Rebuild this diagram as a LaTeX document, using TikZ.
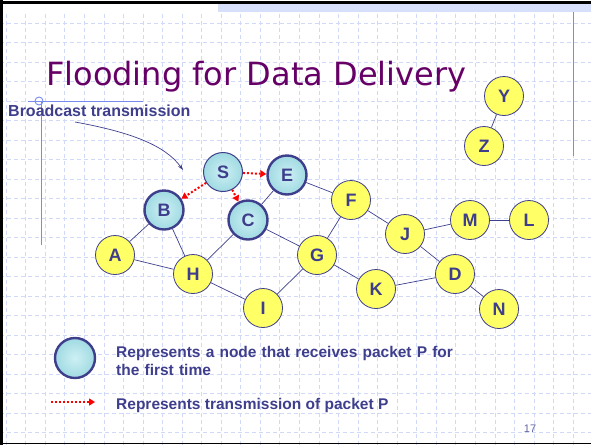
\documentclass[tikz,border=0pt]{standalone}
\usepackage{fontspec}
\setmainfont{Liberation Sans}
\newfontfamily\headfont{DejaVu Sans}
\usetikzlibrary{arrows.meta}
\definecolor{navy}{RGB}{62,62,140}
\definecolor{titlepurple}{RGB}{102,0,102}
\definecolor{pale}{RGB}{255,255,102}
\definecolor{drop}{RGB}{160,218,226}
\definecolor{droplight}{RGB}{205,240,244}
\definecolor{gridblue}{RGB}{208,218,248}
\definecolor{bandblue}{RGB}{214,224,250}
\definecolor{guideblue}{RGB}{120,140,240}

\begin{document}
\begin{tikzpicture}[x=1pt,y=-1pt,
	plain/.style={circle,draw=navy,fill=pale,line width=0.8pt,minimum size=39pt,inner sep=0pt,
		font=\fontsize{18}{18}\selectfont\bfseries,text=navy},
	got/.style={plain,shade,shading=radial,inner color=droplight,outer color=drop,line width=2.4pt},
	src/.style={got,line width=1pt},
	link/.style={draw=navy,line width=0.7pt},
	tx/.style={draw=red,line width=2pt,dash pattern=on 2pt off 2pt,-{Triangle[length=6pt,width=7pt]}},
	note/.style={anchor=base west,inner sep=0pt,text=navy,font=\fontsize{15.5}{18}\selectfont\bfseries},
	gridline/.style={draw=gridblue,line width=0.6pt,dash pattern=on 4pt off 3pt},
	guide/.style={draw=guideblue,line width=0.9pt}]
	\useasboundingbox (0,0) rectangle (591,445);
	% slide background
	\foreach \i in {0,...,29} \draw[gridline] ({573-19.55*\i},14)--({573-19.55*\i},445);
	\foreach \j in {0,...,21} \draw[gridline] (0,{23+19.5*\j})--(591,{23+19.5*\j});
	\fill[bandblue] (218,4) rectangle (591,12);
	\draw[black,line width=3pt] (1.5,0)--(1.5,445);
	\draw[black,line width=3pt] (0,2)--(591,2);
	\draw[black,line width=1.5pt] (0,443.5)--(591,443.5);
	\draw[guide] (28,101)--(143,101);
	\draw[guide] (41,101)--(41,245);
	\draw[guide] (39,101) circle (4);
	\draw[guide] (573,12)--(573,156);
	%
	\node[anchor=base west,inner sep=0pt,text=titlepurple,font=\headfont\fontsize{32}{36}\selectfont] (title) at (46,85) {Flooding for Data Delivery};
	\node[note,font=\fontsize{16}{18}\selectfont\bfseries] (bcast) at (8,116) {Broadcast transmission};
	\coordinate (bstart) at (75,122);
	\coordinate (bend) at (183,170);
	\draw[navy,line width=0.7pt,-{Stealth[length=6pt,width=4pt]}] (bstart) .. controls (130,132) and (165,145) .. (bend);
	%
	\node[src] (S) at (223,172) {S};
	\node[got] (E) at (287,175) {E};
	\node[got] (B) at (164,210) {B};
	\node[got] (C) at (248,220) {C};
	\node[plain] (A) at (115,255) {A};
	\node[plain] (H) at (193,274) {H};
	\node[plain] (I) at (263,308) {I};
	\node[plain] (G) at (317,255) {G};
	\node[plain] (F) at (351,200) {F};
	\node[plain] (J) at (405,234) {J};
	\node[plain] (M) at (470,220) {M};
	\node[plain] (L) at (529,220) {L};
	\node[plain] (K) at (376,289) {K};
	\node[plain] (D) at (455,274) {D};
	\node[plain] (N) at (499,309) {N};
	\node[plain] (Y) at (504,96) {Y};
	\node[plain] (Z) at (484,146) {Z};
	\foreach \a/\b in {A/B,A/H,B/H,H/C,H/I,C/E,C/G,E/F,F/G,G/I,G/K,F/J,J/M,M/L,J/D,K/D,D/N,Y/Z}
		\draw[link] (\a)--(\b);
	\draw[tx] (S)--(E);
	\draw[tx] (S)--(B);
	\draw[tx] (S)--(C);
	% legend
	\node[got,minimum size=40pt] (keynode) at (75,358) {};
	\node[note,text width=380pt,align=left] (keytext) at (116,357) {Represents a node that receives packet P for\\the first time};
	\coordinate (keyfrom) at (51,402);
	\coordinate (keyto) at (95,402);
	\draw[tx] (keyfrom)--(keyto);
	\node[note] (txtext) at (116,409) {Represents transmission of packet P};
	\node[anchor=base,inner sep=0pt,text=navy!80,font=\fontsize{11}{11}\selectfont] (page) at (530,432) {17};
\end{tikzpicture}
\end{document}
